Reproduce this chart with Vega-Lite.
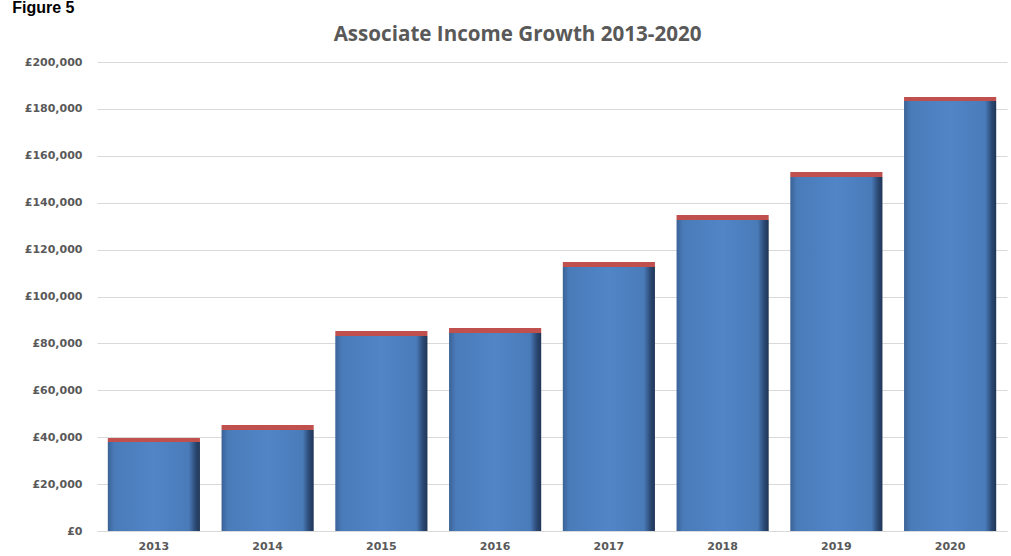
{
  "$schema": "https://vega.github.io/schema/vega-lite/v6.json",
  "background": "white",
  "padding": {"left": 12, "top": 0, "right": 4, "bottom": 0},
  "title": {"text": "Figure 5", "anchor": "start", "frame": "bounds", "font": "Liberation Sans", "fontSize": 16, "fontWeight": "bold", "color": "#000000", "dx": -12, "dy": -10, "offset": -1},
  "vconcat": [
    {
      "width": 910,
      "height": 469,
      "title": {"text": "Associate Income Growth 2013-2020", "anchor": "middle", "frame": "bounds", "font": "Open Sans", "fontSize": 20.6, "fontWeight": "bold", "color": "#595959", "offset": 10, "dx": 2},
      "data": {"values": [
        {"year": "2013", "associate": 38000, "total": 39700},
        {"year": "2014", "associate": 43100, "total": 45200},
        {"year": "2015", "associate": 83200, "total": 85300},
        {"year": "2016", "associate": 84400, "total": 86600},
        {"year": "2017", "associate": 112600, "total": 114700},
        {"year": "2018", "associate": 132600, "total": 134800},
        {"year": "2019", "associate": 151000, "total": 153100},
        {"year": "2020", "associate": 183400, "total": 185100}
      ]},
      "encoding": {
        "x": {"field": "year", "type": "ordinal", "title": null,
          "scale": {"paddingInner": 0.19, "paddingOuter": 0.095},
          "axis": {"labelAngle": 0, "labelFont": "DejaVu Sans", "labelFontSize": 11, "labelFontWeight": "bold", "labelColor": "#595959", "labelPadding": 9, "ticks": false, "domainColor": "#d9d9d9"}}
      },
      "layer": [
        {
          "mark": {"type": "bar", "color": {"gradient": "linear", "x1": 0, "x2": 1, "y1": 0, "y2": 0, "stops": [
            {"offset": 0, "color": "#3a6296"},
            {"offset": 0.07, "color": "#4a7bb9"},
            {"offset": 0.5, "color": "#5185c6"},
            {"offset": 0.88, "color": "#4a7bb9"},
            {"offset": 0.95, "color": "#2c4a75"},
            {"offset": 1, "color": "#1f3556"}
          ]}},
          "encoding": {
            "y": {"field": "associate", "type": "quantitative", "title": null,
              "scale": {"domain": [0, 200000]},
              "axis": {"values": [0, 20000, 40000, 60000, 80000, 100000, 120000, 140000, 160000, 180000, 200000],
                "labelExpr": "'£' + format(datum.value, ',')",
                "labelFont": "DejaVu Sans", "labelFontSize": 11, "labelFontWeight": "bold", "labelColor": "#595959",
                "labelPadding": 15, "ticks": false, "domain": false, "gridColor": "#d9d9d9"}}
          }
        },
        {
          "mark": {"type": "bar", "color": "#c0504d"},
          "encoding": {
            "y": {"field": "associate", "type": "quantitative"},
            "y2": {"field": "total"}
          }
        }
      ]
    }
  ],
  "config": {"view": {"stroke": null}}
}
